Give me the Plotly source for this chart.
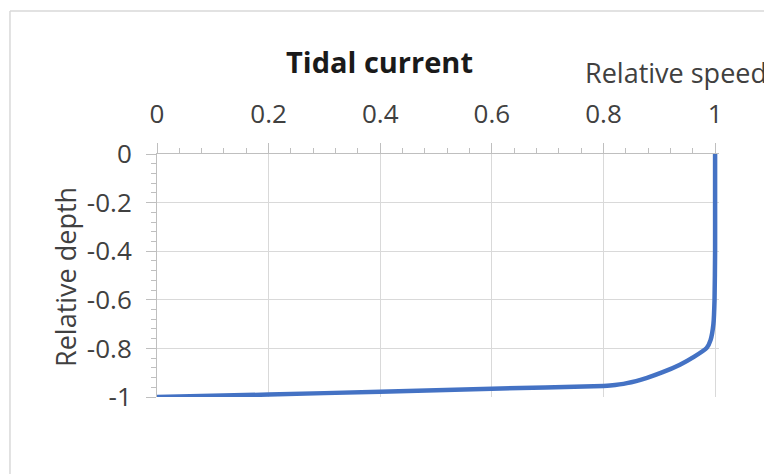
import plotly.graph_objects as go

# Relative speed / relative depth profile
speed = [1.0, 1.0, 1.0, 0.999, 0.997, 0.992, 0.985, 0.962, 0.937, 0.905,
         0.878, 0.842, 0.812, 0.8, 0.6, 0.4, 0.2, 0.0]
depth = [0.0, -0.2, -0.4, -0.6, -0.7, -0.765, -0.798, -0.835, -0.867, -0.899,
         -0.921, -0.943, -0.953, -0.955, -0.966, -0.978, -0.99, -1.0]

x_ticks = [0, 0.2, 0.4, 0.6, 0.8, 1]
y_ticks = [0, -0.2, -0.4, -0.6, -0.8, -1]

# the page body has an 8px margin, so the figure sits at (8, 8)
OFF = 8
W, H = 772 - OFF, 474 - OFF
X_MAX = 1.007  # a little room so the line at x=1 is not clipped
L, T, B = 157 - OFF, 154 - OFF, 397 - OFF
R = L + (715 - 157) * X_MAX


def px(x):
    # reference pixel -> paper x
    return (x - OFF - L) / (R - L)


def py(y):
    # reference pixel -> paper y
    return (B - (y - OFF)) / (B - T)


FONT = 'Open Sans'
LABEL = '#404040'
AXIS = '#bfbfbf'
GRID = '#d9d9d9'

fig = go.Figure()
fig.add_trace(
    go.Scatter(
        x=speed,
        y=depth,
        mode='lines',
        line=dict(color='#4472c4', width=4.5, shape='spline', smoothing=0.6),
        showlegend=False,
    )
)

axis_common = dict(
    showline=True,
    linecolor=AXIS,
    linewidth=1,
    showgrid=True,
    gridcolor=GRID,
    gridwidth=1,
    zeroline=False,
    ticks='outside',
    ticklen=10,
    tickcolor=AXIS,
    tickwidth=1,
    tickfont=dict(family=FONT, size=26, color=LABEL),
    minor=dict(ticks='outside', ticklen=5, tickcolor=AXIS, dtick=0.04,
               showgrid=False),
)

fig.update_xaxes(
    range=[0, X_MAX],
    side='top',
    tickvals=x_ticks,
    ticktext=[f'{v:g}' for v in x_ticks],
    ticklabelstandoff=10,
    **axis_common,
)
fig.update_yaxes(
    range=[-1, 0],
    tickvals=y_ticks,
    ticktext=[f'{v:g}' for v in y_ticks],
    ticklabelstandoff=9,
    **axis_common,
)

fig.add_annotation(
    text='<b>Tidal current</b>', x=px(379), y=py(62), xref='paper',
    yref='paper', showarrow=False, xanchor='center', yanchor='middle',
    font=dict(family=FONT, size=29, color='#1a1a1a'),
)
fig.add_annotation(
    text='Relative speed', x=px(769), y=py(72), xref='paper', yref='paper',
    showarrow=False, xanchor='right', yanchor='middle',
    font=dict(family=FONT, size=27, color=LABEL),
)
fig.add_annotation(
    text='Relative depth', x=px(65), y=py(277), xref='paper', yref='paper',
    showarrow=False, xanchor='center', yanchor='middle', textangle=-90,
    font=dict(family=FONT, size=27, color=LABEL),
)

# chart border (only left and top edges are visible)
fig.add_shape(type='line', xref='paper', yref='paper', x0=px(10),
              x1=px(780), y0=py(11), y1=py(11),
              line=dict(color=GRID, width=1.5))
fig.add_shape(type='line', xref='paper', yref='paper', x0=px(10), x1=px(10),
              y0=py(11), y1=py(480), line=dict(color=GRID, width=1.5))

fig.update_layout(
    width=W,
    height=H,
    margin=dict(l=L, r=W - R, t=T, b=H - B, autoexpand=False),
    paper_bgcolor='white',
    plot_bgcolor='white',
    font=dict(family=FONT, color=LABEL),
)

fig.write_html('out.html')
